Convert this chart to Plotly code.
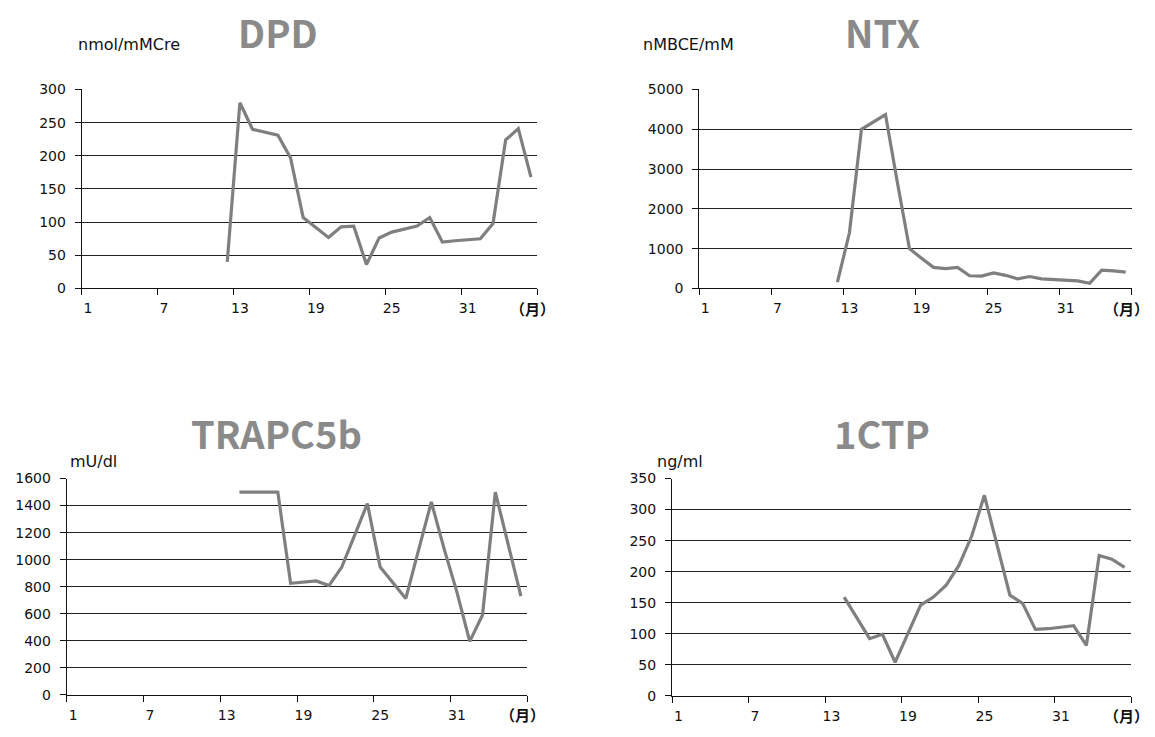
import plotly.graph_objects as go

W, H = 1155, 737

# ---- data (day index 1..36) ----
dpd_x = list(range(12, 37))
dpd_y = [40, 280, 240, 236, 231, 197, 107, 92, 77, 93, 94, 36, 76, 85, 90, 94,
         107, 70, 72, 73, 75, 98, 224, 241, 168]

ntx_x = list(range(12, 37))
ntx_y = [160, 1400, 4000, 4180, 4370, 2650, 1000, 760, 530, 500, 530, 320, 310,
         390, 330, 240, 300, 240, 220, 200, 190, 130, 460, 440, 410]

trap_x = list(range(14, 37))
trap_y = [1500, 1500, 1500, 1500, 825, 835, 842, 808, 945, 1180, 1415, 945, 830,
          712, 1070, 1427, 1080, 760, 395, 590, 1500, 1110, 730]

ctp_x = list(range(14, 37))
ctp_y = [159, 125, 92, 99, 54, 100, 146, 159, 178, 210, 257, 323, 240, 162, 149,
         107, 108, 110, 113, 81, 226, 220, 207]

x_tick_vals = [1, 7, 13, 19, 25, 31]
x_tick_text = ["1", "7", "13", "19", "25", "31"]
x_boundaries = [0.5, 6.5, 12.5, 18.5, 24.5, 30.5, 36.5]

panels = [
    dict(title="DPD", unit="nmol/mMCre", x=dpd_x, y=dpd_y, ymax=300, dtick=50,
         box=(81.7, 537.3, 83.3, 286.7), tpos=(278, 24), upos=(76, 37)),
    dict(title="NTX", unit="nMBCE/mM", x=ntx_x, y=ntx_y, ymax=5000, dtick=1000,
         box=(699.3, 1131.7, 83.3, 286.7), tpos=(882, 24), upos=(641, 37)),
    dict(title="TRAPC5b", unit="mU/dl", x=trap_x, y=trap_y, ymax=1600, dtick=200,
         box=(66.7, 527.3, 481, 702), tpos=(276, 434), upos=(68, 464)),
    dict(title="1CTP", unit="ng/ml", x=ctp_x, y=ctp_y, ymax=350, dtick=50,
         box=(672, 1131, 481, 703), tpos=(882, 434), upos=(655, 464)),
]

fig = go.Figure()
annotations = []
tick_font = dict(family="DejaVu Sans", size=14, color="#111111")
title_family = "Noto Sans CJK JP"

for i, p in enumerate(panels):
    n = "" if i == 0 else str(i + 1)
    l, r, t, b = p["box"]
    fig.add_trace(go.Scatter(
        x=p["x"], y=p["y"], mode="lines",
        line=dict(color="#7f7f7f", width=3.2),
        xaxis="x" + n, yaxis="y" + n, showlegend=False, hoverinfo="skip"))
    fig.layout["xaxis" + n] = dict(
        domain=[l / W, r / W], anchor="y" + n, range=[0.5, 36.5],
        tickmode="array", tickvals=x_tick_vals, ticktext=x_tick_text,
        ticks="", showgrid=False, zeroline=False,
        showline=True, linecolor="#111111", linewidth=1,
        tickfont=tick_font, ticklabelstandoff=7,
        minor=dict(tickmode="array", tickvals=x_boundaries, ticks="outside",
                   ticklen=6, tickwidth=1, tickcolor="#111111", showgrid=False),
        fixedrange=True)
    fig.layout["yaxis" + n] = dict(
        domain=[1 - b / H, 1 - t / H], anchor="x" + n,
        range=[0, p["ymax"]], tickmode="linear", tick0=0, dtick=p["dtick"],
        ticks="outside", ticklen=6, tickcolor="#111111",
        showgrid=True, gridcolor="#222222", gridwidth=1, zeroline=False,
        showline=True, linecolor="#111111", linewidth=1,
        tickfont=tick_font, ticklabelstandoff=6, fixedrange=True)
    annotations.append(dict(
        text=p["title"], x=p["tpos"][0] / W, y=1 - p["tpos"][1] / H,
        xref="paper", yref="paper", xanchor="center", yanchor="middle",
        showarrow=False,
        font=dict(family=title_family, size=38, color="#8a8a8a", weight=700)))
    annotations.append(dict(
        text=p["unit"], x=p["upos"][0] / W, y=1 - p["upos"][1] / H,
        xref="paper", yref="paper", xanchor="left", yanchor="middle",
        showarrow=False, font=dict(family="DejaVu Sans", size=16, color="#111111")))
    annotations.append(dict(
        text="<b>（月）</b>", x=(r - 5) / W, y=1 - (b + 20) / H,
        xref="paper", yref="paper", xanchor="center", yanchor="middle",
        showarrow=False,
        font=dict(family="Noto Sans CJK JP", size=15, color="#111111")))

fig.update_layout(
    width=W, height=H, margin=dict(l=0, r=0, t=0, b=0),
    paper_bgcolor="white", plot_bgcolor="white",
    annotations=annotations, showlegend=False)

fig.write_html("out.html")
